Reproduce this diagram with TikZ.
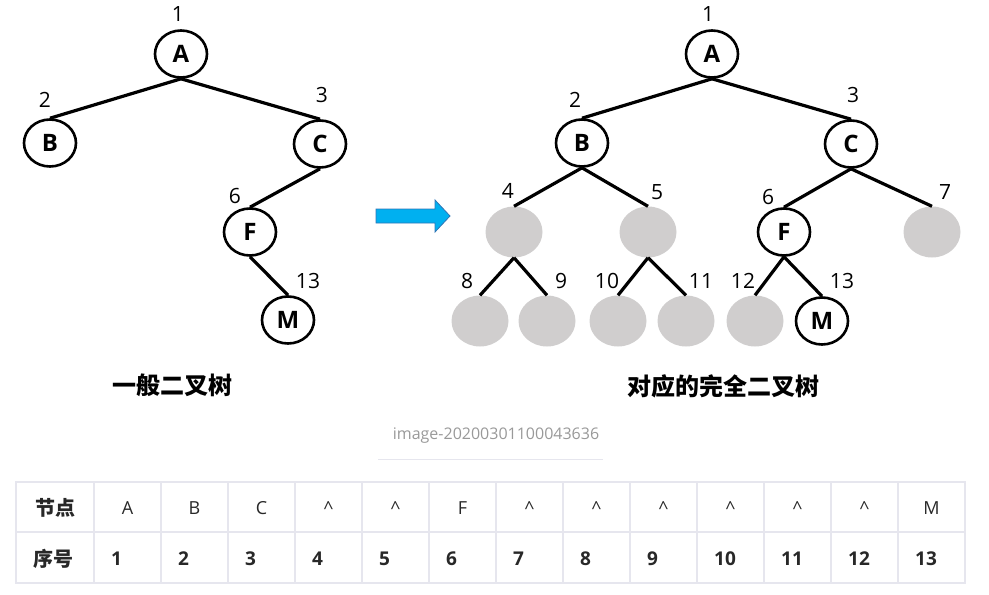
\documentclass[tikz,border=0pt]{standalone}
\usepackage{fontspec}
\setmainfont{Open Sans}
\newfontfamily\cjk{Noto Sans CJK SC}
\usepackage{tikz}
\usetikzlibrary{shapes.geometric,backgrounds}
\definecolor{emptynode}{RGB}{208,206,206}
\definecolor{arrowfill}{RGB}{0,176,240}
\definecolor{arrowline}{RGB}{47,117,181}
\definecolor{gridline}{RGB}{230,230,238}
\definecolor{captiongray}{RGB}{153,153,153}
\definecolor{ink}{RGB}{40,40,40}

\begin{document}
\begin{tikzpicture}[x=1pt,y=-1pt,
  treenode/.style={ellipse,draw,line width=2.6pt,minimum width=52pt,minimum height=47pt,inner sep=0pt,font=\fontsize{24}{24}\selectfont\bfseries},
  emptyslot/.style={ellipse,fill=emptynode,minimum width=57pt,minimum height=51pt,inner sep=0pt},
  numlabel/.style={font=\fontsize{21}{21}\selectfont,inner sep=0pt},
  branch/.style={line width=3.2pt},
  caption/.style={font=\cjk\fontsize{24}{24}\selectfont\bfseries,inner sep=0pt},
  headcell/.style={font=\fontsize{18}{18}\selectfont,text=ink,inner sep=0pt},
  bodycell/.style={font=\fontsize{19}{19}\selectfont\bfseries,text=ink,inner sep=0pt,anchor=west}]
\useasboundingbox (0,0) rectangle (989,595);

% general tree
\node[treenode] (lA) at (181,54) {A};
\node[treenode] (lB) at (50,143) {B};
\node[treenode] (lC) at (320,144) {C};
\node[treenode] (lF) at (250,232) {F};
\node[treenode] (lM) at (288,320) {M};
\foreach \p/\c in {lA/lB,lA/lC,lC/lF,lF/lM}
  \draw[branch] (\p.south) -- (\c.north);
\foreach \n/\x/\y in {1/178/14,2/45/100,3/322/95,6/235/196,13/308/281}
  \node[numlabel] (ln\n) at (\x,\y) {\n};
\node[caption] (lcap) at (172,385) {一般二叉树};

% arrow
\filldraw[fill=arrowfill,draw=arrowline,line width=0.8pt] (376,209) -- (435,209) -- (435,200) -- (450,216) -- (435,232) -- (435,223) -- (376,223) -- cycle;

% complete tree
\node[treenode] (rA) at (712,54) {A};
\node[treenode] (rB) at (582,143) {B};
\node[treenode] (rC) at (851,144) {C};
\node[emptyslot] (r4) at (514,232) {};
\node[emptyslot] (r5) at (648,232) {};
\node[treenode] (rF) at (784,232) {F};
\node[emptyslot] (r7) at (932,232) {};
\node[emptyslot] (r8) at (480,321) {};
\node[emptyslot] (r9) at (547,321) {};
\node[emptyslot] (r10) at (618,321) {};
\node[emptyslot] (r11) at (686,321) {};
\node[emptyslot] (r12) at (755,321) {};
\node[treenode] (rM) at (822,321) {M};
\foreach \p/\c in {rA/rB,rA/rC,rB/r4,rB/r5,rC/rF,rC/r7,r4/r8,r4/r9,r5/r10,r5/r11,rF/r12,rF/rM}
  \draw[branch] (\p.south) -- (\c.north);
\foreach \n/\x/\y in {1/708/14,2/575/100,3/853/95,4/508/191,5/657/192,6/768/197,7/945/192,
    8/467/281,9/561/281,10/607/281,11/701/281,12/743/281,13/842/281}
  \node[numlabel] (rn\n) at (\x,\y) {\n};
\node[caption] (rcap) at (723,386) {对应的完全二叉树};

% image name
\node[font=\fontsize{16}{16}\selectfont,text=captiongray,inner sep=0pt] (imgname) at (496,436) {image-20200301100043636};
\draw[gridline,line width=1pt] (378,459) -- (603,459);

% table
\draw[gridline,line width=1.3pt] (16,482) rectangle (965,583);
\draw[gridline,line width=1.3pt] (16,532) -- (965,532);
\foreach \x in {94,161,...,898}
  \draw[gridline,line width=1.3pt] (\x,482) -- (\x,583);
\node[headcell,font=\cjk\fontsize{20}{20}\selectfont\bfseries] (h0) at (55,508) {节点};
\foreach \t [count=\i] in {A,B,C,\textasciicircum,\textasciicircum,F,\textasciicircum,\textasciicircum,\textasciicircum,\textasciicircum,\textasciicircum,\textasciicircum,M}
  \node[headcell,anchor=base] (h\i) at ({60.5+67*\i},514.5) {\t};
\node[bodycell,font=\cjk\fontsize{20}{20}\selectfont\bfseries] (s0) at (33,559) {序号};
\foreach \i in {1,...,13}
  \node[bodycell] (s\i) at ({44+67*\i},559) {\i};
\end{tikzpicture}
\end{document}
